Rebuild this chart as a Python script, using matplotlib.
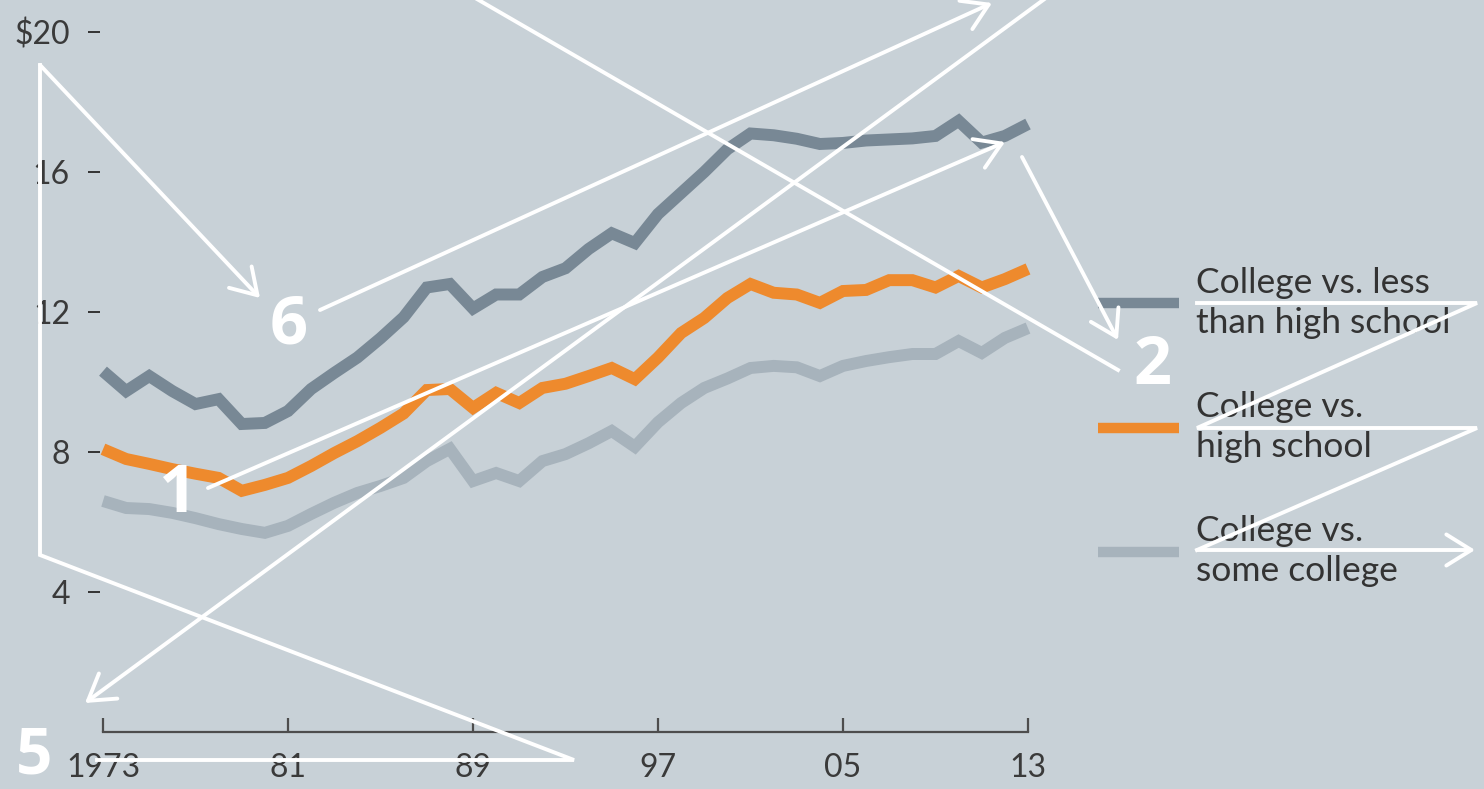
import matplotlib
matplotlib.use("Agg")
import matplotlib.pyplot as plt
from matplotlib.lines import Line2D
from matplotlib.patches import FancyArrowPatch

# ---------------- data ----------------
years = list(range(1973, 2014))
less_than_hs = [10.31, 9.74, 10.17, 9.74, 9.37, 9.51, 8.80, 8.83, 9.17, 9.80, 10.26,
                10.70, 11.25, 11.85, 12.70, 12.80, 12.10, 12.50, 12.50, 13.00, 13.25,
                13.80, 14.25, 13.97, 14.80, 15.40, 16.00, 16.65, 17.10, 17.05, 16.95,
                16.80, 16.83, 16.90, 16.93, 16.96, 17.03, 17.46, 16.84, 17.03, 17.37]
high_school = [8.08, 7.80, 7.66, 7.51, 7.38, 7.26, 6.89, 7.06, 7.26, 7.60, 7.97,
               8.31, 8.69, 9.10, 9.77, 9.80, 9.26, 9.69, 9.40, 9.83, 9.95,
               10.17, 10.40, 10.08, 10.70, 11.40, 11.83, 12.40, 12.80, 12.55, 12.50,
               12.26, 12.60, 12.63, 12.91, 12.91, 12.70, 13.03, 12.70, 12.94, 13.23]
some_college = [6.60, 6.40, 6.37, 6.26, 6.11, 5.94, 5.80, 5.69, 5.89, 6.23, 6.55,
                6.83, 7.03, 7.26, 7.74, 8.09, 7.17, 7.40, 7.17, 7.74, 7.94,
                8.25, 8.60, 8.15, 8.85, 9.40, 9.83, 10.10, 10.40, 10.46, 10.42,
                10.17, 10.46, 10.60, 10.71, 10.80, 10.80, 11.17, 10.83, 11.26, 11.54]
series_labels = ["College vs. less\nthan high school",
                 "College vs.\nhigh school",
                 "College vs.\nsome college"]
y_ticks = [4, 8, 12, 16, 20]
y_ticklabels = ["4", "8", "12", "16", "$20"]
x_ticks = [1973, 1981, 1989, 1997, 2005, 2013]
x_ticklabels = ["1973", "81", "89", "97", "05", "13"]

# ---------------- style ----------------
W, H = 1484, 789
BG = "#c8d1d7"
C_DARK = "#788895"
C_ORANGE = "#ee8a2d"
C_LIGHT = "#a7b3bc"
TXT = "#333333"
AX = "#4d4d4d"
TICK_FONT = ["Lato", "DejaVu Sans"]
LEG_FONT = ["Lato", "DejaVu Sans"]

fig = plt.figure(figsize=(W / 100, H / 100), dpi=100, facecolor=BG)

# axes placement in pixels: data 1973 -> x=103, 2013 -> x=1028, y=0 -> 732, 35 px per unit
px_per_year = (1028 - 103) / 40.0
ax_left_px, ax_right_px = 100, 1028
ax_bottom_px = 732
ax = fig.add_axes([ax_left_px / W, (H - ax_bottom_px) / H,
                   (ax_right_px - ax_left_px) / W, ax_bottom_px / H])
ax.set_facecolor(BG)
ax.set_xlim(1973 - (103 - ax_left_px) / px_per_year, 2013)
ax.set_ylim(0, ax_bottom_px / 35.0)

lw = 8.6
l3, = ax.plot(years, some_college, color=C_LIGHT, lw=lw, solid_joinstyle="miter",
              solid_capstyle="butt", clip_on=False, zorder=2)
l2, = ax.plot(years, high_school, color=C_ORANGE, lw=lw, solid_joinstyle="miter",
              solid_capstyle="butt", clip_on=False, zorder=3)
l1, = ax.plot(years, less_than_hs, color=C_DARK, lw=lw, solid_joinstyle="miter",
              solid_capstyle="butt", clip_on=False, zorder=4)

for s in ["top", "right", "left"]:
    ax.spines[s].set_visible(False)
ax.spines["bottom"].set_color(AX)
ax.spines["bottom"].set_linewidth(1.6)
ax.spines["bottom"].set_bounds(1973, 2013)

ax.set_xticks(x_ticks)
ax.set_xticklabels(x_ticklabels, fontfamily=TICK_FONT, fontsize=23, color="#3a3a3a")
ax.tick_params(axis="x", direction="in", length=10, width=1.6, color=AX, pad=15)
ax.set_yticks(y_ticks)
ax.set_yticklabels(y_ticklabels, fontfamily=TICK_FONT, fontsize=23, color="#3a3a3a")
ax.tick_params(axis="y", direction="out", length=8.6, width=1.4, color=TXT, pad=13)

leg = ax.legend([l1, l2, l3], series_labels, loc="center left",
                bbox_to_anchor=(1098 / W, 1 - 427 / H), bbox_transform=fig.transFigure,
                frameon=False, prop={"family": LEG_FONT, "size": 25.5},
                handlelength=2.3, handletextpad=0.47, labelspacing=1.48,
                borderpad=0, borderaxespad=0)
for t in leg.get_texts():
    t.set_color(TXT)
    t.set_linespacing(1.3)
for h in leg.legend_handles:
    h.set_linewidth(7.5)

# ---------------- white overlay annotations (pixel coordinates) ----------------
def P(x, y):
    return (x / W, 1 - y / H)

WL = 2.8

def path(points, arrow=True):
    pts = points[:-1] if arrow else points
    if len(pts) >= 2:
        xs = [P(*p)[0] for p in pts]
        ys = [P(*p)[1] for p in pts]
        fig.add_artist(Line2D(xs, ys, color="white", lw=WL, transform=fig.transFigure,
                              solid_joinstyle="miter", zorder=20))
    if arrow:
        a = FancyArrowPatch(P(*points[-2]), P(*points[-1]), transform=fig.transFigure,
                            arrowstyle="->,head_length=0.45,head_width=0.28",
                            mutation_scale=40, color="white", lw=WL,
                            shrinkA=0, shrinkB=0, zorder=20)
        fig.add_artist(a)

path([(97, 760), (574, 760), (40, 555), (40, 65), (260, 298)])
path([(320, 310), (992, 3)])
path([(1050, -5), (85, 703)])
path([(208, 488), (1005, 142)])
path([(1022, 157), (1118, 340)])
path([(1118, 370), (470, -5)], arrow=False)
path([(1197, 303), (1477, 303), (1197, 428), (1477, 428), (1197, 550), (1475, 550)])

NUM_FONT = ["Open Sans", "DejaVu Sans"]
for txt, (x, y) in [("6", (289, 326)), ("1", (177, 495)), ("2", (1152, 366))]:
    fig.text(*P(x, y), txt, color="white", fontsize=48, fontweight="bold",
             family=NUM_FONT, ha="center", va="center", zorder=21)
fig.text(*P(34, 789), "5", color="white", fontsize=46, fontweight="bold",
         family=NUM_FONT, ha="center", va="bottom", zorder=21)

fig.savefig("out.png", dpi=100, facecolor=BG)
